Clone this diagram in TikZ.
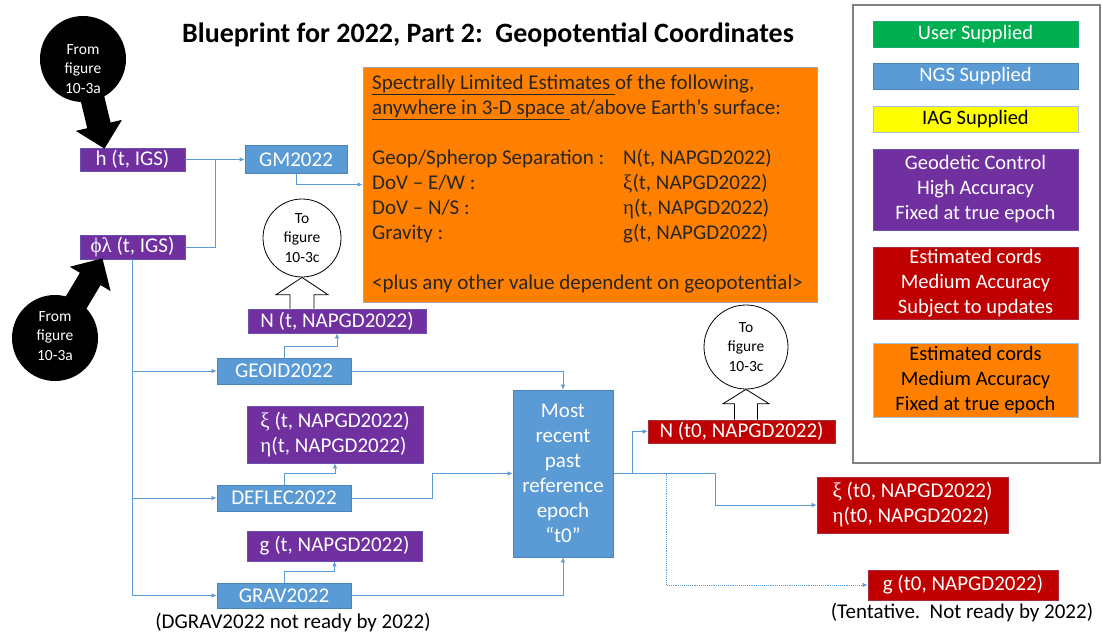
\documentclass[tikz,border=0pt]{standalone}
\usepackage{fontspec}
\setmainfont{Carlito}
\newfontfamily\grk{Liberation Serif}
\usetikzlibrary{arrows.meta,calc}
\definecolor{ngsblue}{HTML}{5B9BD5}
\definecolor{geopurple}{HTML}{7030A0}
\definecolor{estred}{HTML}{C00000}
\definecolor{estorange}{HTML}{FF8000}
\definecolor{usergreen}{HTML}{00B050}
\definecolor{iagyellow}{HTML}{FFFF00}
\definecolor{linkblue}{HTML}{5B9BD5}
\newcommand\gxi{{\grk ξ}}
\newcommand\geta{{\grk η}}
\newcommand\gphilam{{\grk ϕλ}}
\begin{document}
\begin{tikzpicture}[x=1pt,y=-1pt,
  txt/.style={font={\fontsize{21}{25}\selectfont}},
  box/.style={rectangle, inner sep=0pt, txt, text=white, line width=0.6pt},
  bluebox/.style={box, fill=ngsblue, draw=ngsblue!85!black},
  purplebox/.style={box, fill=geopurple, draw=geopurple!70!ngsblue},
  redbox/.style={box, fill=estred, draw=estred!70!ngsblue},
  blackcirc/.style={circle, fill=black, minimum size=86pt, inner sep=0pt},
  circtext/.style={align=center, inner sep=0pt, font={\fontsize{15.5}{19.5}\selectfont}},
  whitecirc/.style={circle, draw=black, fill=white, line width=0.8pt, inner sep=0pt, circtext},
  conn/.style={draw=linkblue, line width=0.9pt},
  arr/.style={conn, -{Latex[length=5pt,width=4.5pt]}},
  bigarrow/.style={line width=24pt, shorten <=-4pt, -{Triangle[length=24pt,width=46pt]}},
  hollow/.style={draw=black, fill=white, line width=0.8pt, line join=miter},
  legbox/.style={box, font={\fontsize{20.5}{25}\selectfont}, minimum width=205pt, align=center}
]
\useasboundingbox (0,0) rectangle (1102,637);

% title
\node[font={\fontsize{28}{32}\selectfont\bfseries}] (title) at (488,35) {Blueprint for 2022, Part 2:\ \ Geopotential Coordinates};

% legend
\node[draw=gray, line width=1.5pt, minimum width=247pt, minimum height=458pt, inner sep=0pt] (legend) at (976.5,234) {};
\node[legbox, fill=usergreen, draw=usergreen!70!ngsblue, minimum height=26pt] (leg1) at (975.5,34) {User Supplied};
\node[legbox, fill=ngsblue, draw=ngsblue!85!black, minimum height=26pt] (leg2) at (975.5,76) {NGS Supplied};
\node[legbox, fill=iagyellow, draw=ngsblue!60, text=black, minimum height=26pt] (leg3) at (975.5,119) {IAG Supplied};
\node[legbox, fill=geopurple, draw=geopurple!70!ngsblue, minimum height=81pt] (leg4) at (975.5,189.5) {Geodetic Control\\High Accuracy\\Fixed at true epoch};
\node[legbox, fill=estred, draw=estred!70!ngsblue, minimum height=72pt] (leg5) at (975.5,283) {Estimated cords\\Medium Accuracy\\Subject to updates};
\node[legbox, fill=estorange, draw=ngsblue!60, text=black, minimum height=74pt] (leg6) at (975.5,380) {Estimated cords\\Medium Accuracy\\Fixed at true epoch};

% orange estimates box
\node[fill=estorange, draw=gray!70, line width=0.8pt, minimum width=454pt, minimum height=235pt, inner sep=0pt] (est) at (590,184.5) {};
\node[anchor=north west, inner sep=0pt, align=left, txt, text=black!85] (esttext) at (372,75) {%
\underline{Spectrally Limited Estimates\ }of the following,\\
\underline{anywhere in 3-D space\ }at/above Earth’s surface:\\[25pt]
\makebox[251pt][l]{Geop/Spherop Separation :}N(t, NAPGD2022)\\
\makebox[251pt][l]{DoV – E/W :}\gxi(t, NAPGD2022)\\
\makebox[251pt][l]{DoV – N/S :}\geta(t, NAPGD2022)\\
\makebox[251pt][l]{Gravity :}g(t, NAPGD2022)\\[25pt]
<plus any other value dependent on geopotential>};

% inputs
\node[purplebox, minimum width=105pt, minimum height=23pt] (h) at (132.5,159.5) {h (t, IGS)};
\node[purplebox, minimum width=105pt, minimum height=24pt] (phil) at (132.5,247) {\gphilam{} (t, IGS)};
\node[bluebox, minimum width=102pt, minimum height=28pt] (gm) at (296,159.5) {GM2022};

% black circles and block arrows
\node[blackcirc] (c1) at (83,59) {};
\node[blackcirc] (c2) at (55,338) {};
\draw[bigarrow] (c1) -- ([xshift=-28pt,yshift=-1pt]h.north);
\draw[bigarrow] (c2) -- ([xshift=-30pt,yshift=1pt]phil.south);
\node[circtext, text=white] (c1text) at (83,69) {From\\figure\\10-3a};
\node[circtext, text=white] (c2text) at (55,336) {From\\figure\\10-3a};

% left column
\node[purplebox, minimum width=178pt, minimum height=24pt] (Nt) at (337,321) {N (t, NAPGD2022)};
\node[bluebox, minimum width=134pt, minimum height=26pt] (geoid) at (284,371) {GEOID2022};
\node[purplebox, minimum width=176pt, minimum height=57pt, align=left] (xe) at (335,434.5) {\gxi{} (t, NAPGD2022)\\\geta(t, NAPGD2022)};
\node[bluebox, minimum width=134pt, minimum height=26pt] (deflec) at (284,498) {DEFLEC2022};
\node[purplebox, minimum width=175pt, minimum height=30pt] (g) at (334.5,546) {g (t, NAPGD2022)};
\node[bluebox, minimum width=134pt, minimum height=25pt] (grav) at (284,595.5) {GRAV2022};
\node[txt] (dgrav) at (293,623) {(DGRAV2022 not ready by 2022)};

% to-figure circle 1
\node[whitecirc, minimum size=78pt] (c3) at (302,238) {To\\figure\\10-3c};
\draw[hollow] let \p1=(c3.south), \p2=(Nt.north) in
  (\x1-12pt,\y2) -- (\x1-12pt,\y2+14pt) -- (\x1-26pt,\y2+14pt) -- (\x1,\y1) --
  (\x1+26pt,\y2+14pt) -- (\x1+12pt,\y2+14pt) -- (\x1+12pt,\y2);

% most recent
\node[bluebox, minimum width=100pt, minimum height=167pt, align=center] (mr) at (563,473.5) {Most\\recent\\past\\reference\\epoch\\“t0”};

% outputs
\node[redbox, minimum width=187pt, minimum height=23pt] (Nt0) at (741.5,431.5) {N (t0, NAPGD2022)};
\node[redbox, minimum width=191pt, minimum height=56pt, align=left] (xe0) at (912.5,505) {\gxi{} (t0, NAPGD2022)\\\geta(t0, NAPGD2022)};
\node[redbox, minimum width=190pt, minimum height=30pt] (g0) at (963,585) {g (t0, NAPGD2022)};
\node[txt] (tent) at (962,613) {(Tentative.\ \ Not ready by 2022)};

% to-figure circle 2
\node[whitecirc, minimum size=84pt] (c4) at (746,347) {To\\figure\\10-3c};
\draw[hollow] let \p1=(c4.south), \p2=(Nt0.north) in
  (\x1-11.5pt,\y2) -- (\x1-11.5pt,\y2+16pt) -- (\x1-23pt,\y2+16pt) -- (\x1,\y1) --
  (\x1+23pt,\y2+16pt) -- (\x1+11.5pt,\y2+16pt) -- (\x1+11.5pt,\y2);

% connectors
\coordinate (j1) at (215,159.5);
\draw[conn] (h.east) -- (j1);
\draw[conn] (phil.east) -| (j1);
\draw[arr] (j1) -- (gm.west);
\draw[arr] (gm.south) |- (est.west);
\draw[arr] (phil.south) |- (grav.west);
\draw[arr] (phil.south) |- (geoid.west);
\draw[arr] (phil.south) |- (deflec.west);
\draw[arr] (geoid.north) -- ++(0,-11) -| (Nt.south);
\draw[arr] (deflec.north) -- ++(0,-11) -| (xe.south);
\draw[arr] (grav.north) -- ++(0,-11) -| (g.south);
\draw[arr] (geoid.east) -| (mr.north);
\draw[arr] (deflec.east) -- ++(81,0) |- (mr.west);
\draw[arr] (grav.east) -| (mr.south);
\draw[arr] (mr.east) -- ++(19,0) |- (Nt0.west);
\draw[arr] (mr.east) -- ++(102,0) |- (xe0.west);
\draw[arr, densely dotted] ([xshift=53pt]mr.east) |- (g0.west);
\end{tikzpicture}
\end{document}
